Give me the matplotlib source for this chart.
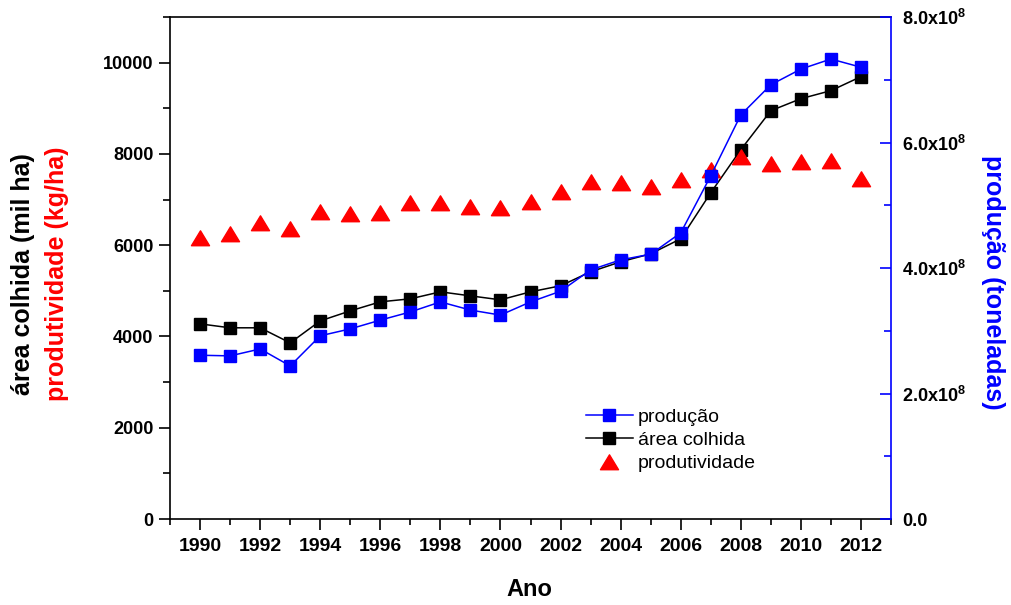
import matplotlib
matplotlib.use("Agg")
import matplotlib.pyplot as plt
import numpy as np
from matplotlib.ticker import MultipleLocator, FuncFormatter
from matplotlib.path import Path

plt.rcParams['font.family'] = ['Liberation Sans', 'DejaVu Sans']
plt.rcParams['mathtext.fontset'] = 'custom'
plt.rcParams['mathtext.rm'] = 'Liberation Sans:bold'
plt.rcParams['mathtext.default'] = 'rm'

anos = list(range(1990, 2013))
producao = [2.61e8, 2.60e8, 2.71e8, 2.44e8, 2.92e8, 3.03e8, 3.17e8, 3.30e8, 3.46e8, 3.33e8,
            3.25e8, 3.46e8, 3.63e8, 3.97e8, 4.13e8, 4.22e8, 4.56e8, 5.47e8, 6.44e8, 6.92e8,
            7.17e8, 7.33e8, 7.20e8]
area_colhida = [4276, 4190, 4190, 3860, 4342, 4561, 4759, 4825, 4978, 4890,
                4803, 4978, 5110, 5417, 5636, 5811, 6140, 7149, 8092, 8947,
                9210, 9386, 9693]
produtividade = [6160, 6250, 6490, 6360, 6730, 6690, 6710, 6930, 6930, 6840,
                 6820, 6950, 7170, 7390, 7370, 7280, 7430, 7650, 7940, 7785,
                 7830, 7850, 7456]

BLUE = '#0000FF'
RED = '#FF0000'

fig = plt.figure(figsize=(10.11, 6.05), dpi=100)
ax1 = fig.add_axes([0.1682, 0.1421, 0.7131, 0.8298])
ax2 = ax1.twinx()

tri = Path(np.array([[-1.0, -0.8], [1.0, -0.8], [0.0, 0.85], [-1.0, -0.8]]),
           [Path.MOVETO, Path.LINETO, Path.LINETO, Path.CLOSEPOLY])

l_area, = ax1.plot(anos, area_colhida, color='black', lw=1.1, marker='s', ms=8,
                   mec='black', mfc='black', label='área colhida', zorder=2)
l_prodv, = ax1.plot(anos, produtividade, ls='none', marker=tri, ms=13,
                    mfc=RED, mec=RED, label='produtividade', zorder=3)
l_prod, = ax2.plot(anos, producao, color=BLUE, lw=1.1, marker='s', ms=8,
                   mec=BLUE, mfc=BLUE, label='produção', zorder=2)

ax1.set_xlim(1989, 2013)
ax1.set_ylim(0, 11000)
ax2.set_ylim(0, 8e8)

ax1.xaxis.set_major_locator(MultipleLocator(2))
ax1.xaxis.set_minor_locator(MultipleLocator(1))
ax1.yaxis.set_major_locator(MultipleLocator(2000))
ax1.yaxis.set_minor_locator(MultipleLocator(1000))
ax2.yaxis.set_major_locator(MultipleLocator(2e8))
ax2.yaxis.set_minor_locator(MultipleLocator(1e8))

def fmt_right(v, pos):
    if v == 0:
        return '0.0'
    return '%.1fx10$^{8}$' % (v / 1e8)
ax2.yaxis.set_major_formatter(FuncFormatter(fmt_right))

for sp in ['top', 'left', 'bottom']:
    ax1.spines[sp].set_linewidth(1.2)
    ax1.spines[sp].set_color('black')
ax1.spines['right'].set_visible(False)
for sp in ['top', 'left', 'bottom']:
    ax2.spines[sp].set_visible(False)
ax2.spines['right'].set_color(BLUE)
ax2.spines['right'].set_linewidth(1.2)

ax1.tick_params(axis='x', which='major', direction='out', length=8, width=1.2, pad=5.5,
                labelsize=14, top=False)
ax1.tick_params(axis='x', which='minor', direction='out', length=4.5, width=1.2, top=False)
ax1.tick_params(axis='y', which='major', direction='out', length=8, width=1.2, pad=4,
                labelsize=13, right=False)
ax1.tick_params(axis='y', which='minor', direction='out', length=5, width=1.2, right=False)
ax2.tick_params(axis='y', which='major', direction='in', length=8, width=1.2, pad=8,
                labelsize=13, color=BLUE, labelcolor='black')
ax2.tick_params(axis='y', which='minor', direction='in', length=5, width=1.2, color=BLUE)

for lab in ax1.get_xticklabels() + ax1.get_yticklabels() + ax2.get_yticklabels():
    lab.set_fontweight('bold')

fig.text(0.524, 1 - 589 / 605, 'Ano', ha='center', va='center', fontsize=17, fontweight='bold')
fig.text(23 / 1011, 1 - 274 / 605, 'área colhida (mil ha)', rotation=90, ha='center', va='center',
         fontsize=18, fontweight='bold', color='black')
fig.text(57 / 1011, 1 - 274 / 605, 'produtividade (kg/ha)', rotation=90, ha='center', va='center',
         fontsize=18, fontweight='bold', color=RED)
fig.text(993 / 1011, 1 - 282 / 605, 'produção (toneladas)', rotation=270, ha='center', va='center',
         fontsize=18, fontweight='bold', color=BLUE)

leg = ax2.legend(handles=[l_prod, l_area, l_prodv], loc='upper left',
                 bbox_to_anchor=(586 / 1011, 1 - 408 / 605), bbox_transform=fig.transFigure,
                 frameon=False, fontsize=14, handlelength=2.4, handletextpad=0.25,
                 labelspacing=0.3, borderpad=0, borderaxespad=0)

fig.savefig('out.png', dpi=100)
